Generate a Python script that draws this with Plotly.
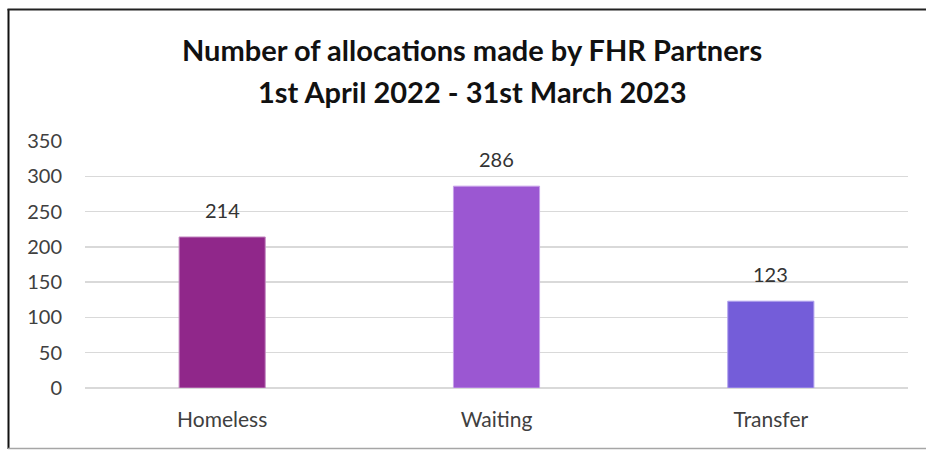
import plotly.graph_objects as go

categories = ["Homeless", "Waiting", "Transfer"]
values = [214, 286, 123]
bar_colors = ["#90278A", "#9B57D2", "#745DD9"]
bar_edges = ["#C48CC2", "#C7A0EA", "#B0A2EE"]
y_ticks = [0, 50, 100, 150, 200, 250, 300, 350]
title_lines = ["Number of allocations made by FHR Partners",
               "1st April 2022 - 31st March 2023"]

L, R, T, B = 85, 18, 141, 62
W, H = 926, 450
pw, ph = W - L - R, H - T - B

def px(x):
    return (x - L) / pw

def py(y):
    return (H - B - y) / ph

fig = go.Figure(go.Bar(
    x=categories, y=values, width=0.314,
    marker=dict(color=bar_colors, line=dict(color=bar_edges, width=1)),
    hoverinfo="skip",
))

for c, v in zip(categories, values):
    fig.add_annotation(x=c, y=v, text=str(v), showarrow=False, yshift=27,
                       font=dict(family="Lato", size=20, color="#333333"))

for line, ypix in zip(title_lines, [49, 91]):
    fig.add_annotation(xref="paper", yref="paper", x=px(472), y=py(ypix),
                       xanchor="center", yanchor="middle", showarrow=False,
                       text=line,
                       font=dict(family="Lato", size=29, color="#111111",
                                 weight="bold"))

fig.update_layout(
    width=W, height=H,
    margin=dict(l=L, r=R, t=T, b=B),
    paper_bgcolor="white", plot_bgcolor="white",
    showlegend=False,
    font=dict(family="Lato", size=20, color="#404040"),
    xaxis=dict(showgrid=False, showline=False, ticks="", ticklabelstandoff=17,
               tickfont=dict(size=21, color="#404040")),
    yaxis=dict(range=[0, 350], tickvals=y_ticks, showgrid=True,
               gridcolor="#D9D9D9", gridwidth=1.5, zeroline=True,
               zerolinecolor="#D9D9D9", zerolinewidth=1.5,
               showline=False, ticks="", ticklabelstandoff=22,
               tickfont=dict(size=20, color="#404040")),
)

fig.add_shape(type="line", xref="paper", yref="paper",
              x0=px(8.5), x1=px(8.5), y0=py(9), y1=py(449),
              line=dict(color="#111111", width=2))
fig.add_shape(type="line", xref="paper", yref="paper",
              x0=px(7.5), x1=px(926), y0=py(9.5), y1=py(9.5),
              line=dict(color="#222222", width=2))
fig.add_shape(type="line", xref="paper", yref="paper",
              x0=px(8), x1=px(926), y0=py(448.5), y1=py(448.5),
              line=dict(color="#A6A6A6", width=1.5))

fig.write_html("out.html",
               config={"displayModeBar": False, "staticPlot": True},
               post_script="document.body.style.margin='0';document.body.style.overflow='hidden';")
